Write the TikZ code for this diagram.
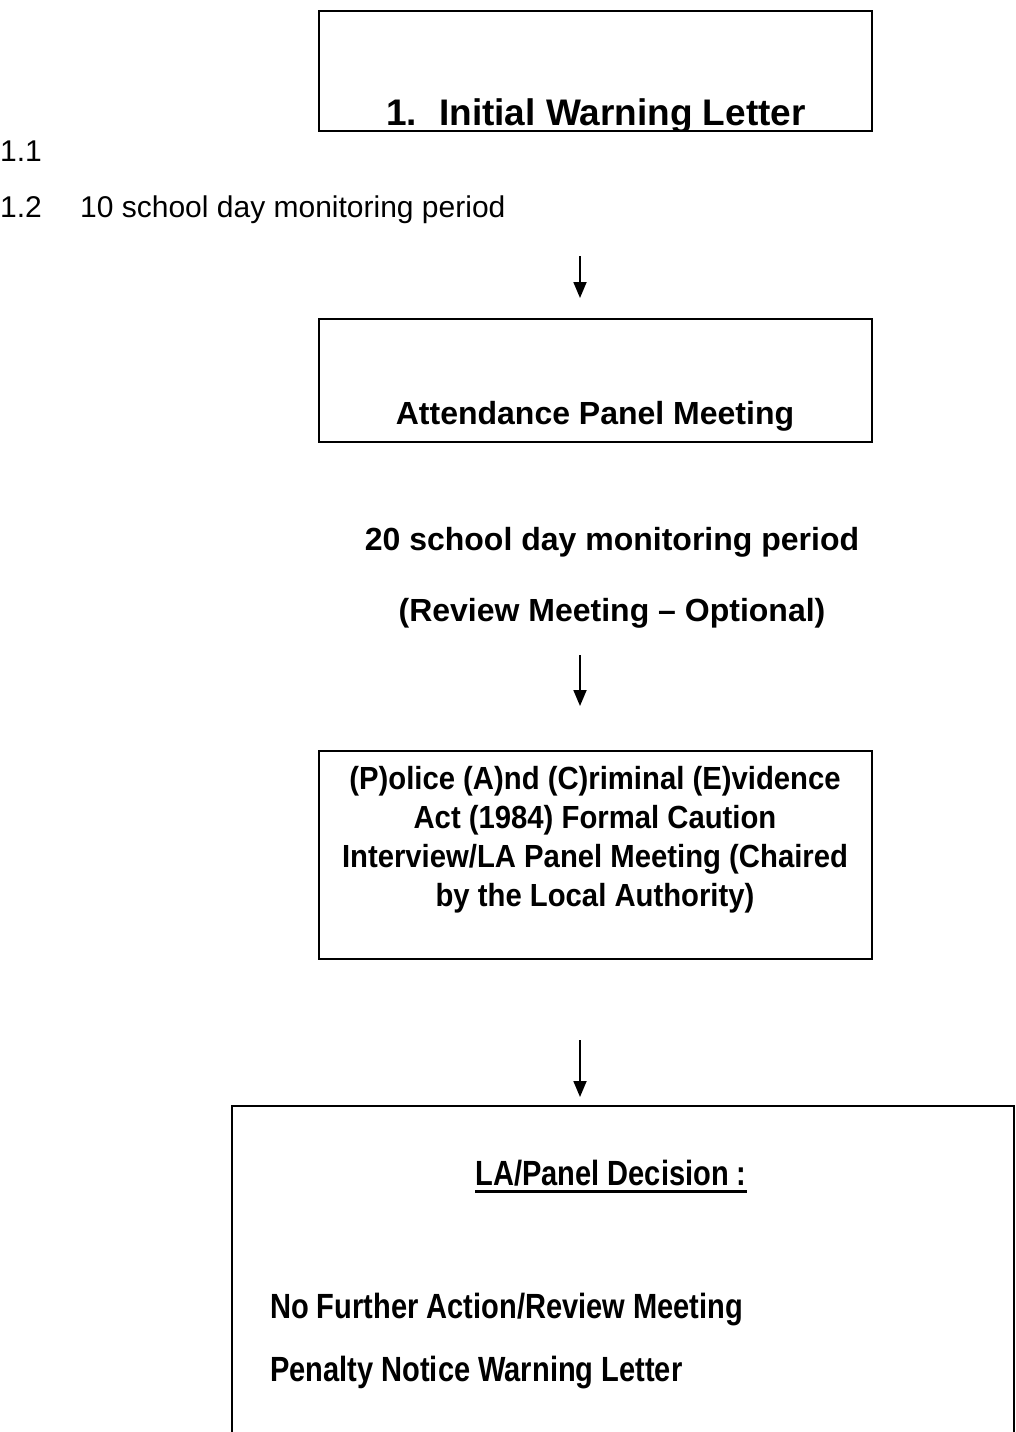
\documentclass[tikz,border=0pt]{standalone}
\usepackage{fontspec}
\setmainfont{Liberation Sans}
\newfontfamily\narrowfont[FakeStretch=0.83]{Liberation Sans}
\newfontfamily\semifont[FakeStretch=0.915]{Liberation Sans}
\usetikzlibrary{arrows.meta,calc}
\begin{document}
\begin{tikzpicture}[x=1pt,y=-1pt,
  box/.style={draw,line width=1.6pt,minimum width=553pt,anchor=north west,inner sep=0pt},
  arr/.style={line width=1.8pt,-{Triangle[length=16pt,width=13pt]}},
  reg/.style={font=\fontsize{30}{36}\selectfont,anchor=base west,inner sep=0pt},
  boldtxt/.style={font=\fontsize{32}{39}\selectfont\bfseries,inner sep=0pt,anchor=base},
  big/.style={font=\fontsize{37}{44}\selectfont\bfseries,inner sep=0pt,anchor=base},
  nar/.style={font=\narrowfont\fontsize{35}{42}\selectfont\bfseries,inner sep=0pt,anchor=base west}]
\useasboundingbox (0,0) rectangle (1016,1432);
\clip (0,0) rectangle (1016,1432);

% Box 1
\node[box,minimum height=120pt] (b1) at (318,10) {};
\begin{scope}
  \clip (b1.north west) rectangle (b1.south east);
  \node[big] (t1) at (596,125) {1.\hspace{22pt}Initial Warning Letter};
\end{scope}

\node[reg] (l11) at (0,161) {1.1};
\node[reg] (l12) at (0,217) {1.2};
\node[reg] (l12t) at (80,217) {10 school day monitoring period};

\coordinate (a1s) at (580,256);
\coordinate (a1e) at (580,298);
\draw[arr] (a1s) -- (a1e);

% Box 2
\node[box,minimum height=123pt] (b2) at (318,318) {};
\node[boldtxt] (t2) at (595,424) {Attendance Panel Meeting};

\node[boldtxt] (m1) at (612,550) {20 school day monitoring period};
\node[boldtxt] (m2) at (612,621) {(Review Meeting -- Optional)};

\coordinate (a2s) at (580,655);
\coordinate (a2e) at (580,706);
\draw[arr] (a2s) -- (a2e);

% Box 3
\node[box,minimum height=208pt] (b3) at (318,750) {};
\node[font=\semifont\fontsize{32}{39}\selectfont\bfseries,inner sep=0pt,align=center,anchor=north] (t3) at (595,766)
  {(P)olice (A)nd (C)riminal (E)vidence\\Act (1984) Formal Caution\\Interview/LA Panel Meeting (Chaired\\by the Local Authority)};

\coordinate (a3s) at (580,1040);
\coordinate (a3e) at (580,1097);
\draw[arr] (a3s) -- (a3e);

% Box 4
\node[box,minimum width=782pt,minimum height=400pt] (b4) at (231,1105) {};
\node[font=\narrowfont\fontsize{35}{42}\selectfont\bfseries,inner sep=0pt,anchor=base] (t4) at (611,1185) {LA/Panel Decision :};
\draw[line width=3pt] ($(t4.base west)+(0,6)$) -- ($(t4.base east)+(0,6)$);
\node[nar] (o1) at (270,1318) {No Further Action/Review Meeting};
\node[nar] (o2) at (270,1381) {Penalty Notice Warning Letter};
\end{tikzpicture}
\end{document}
